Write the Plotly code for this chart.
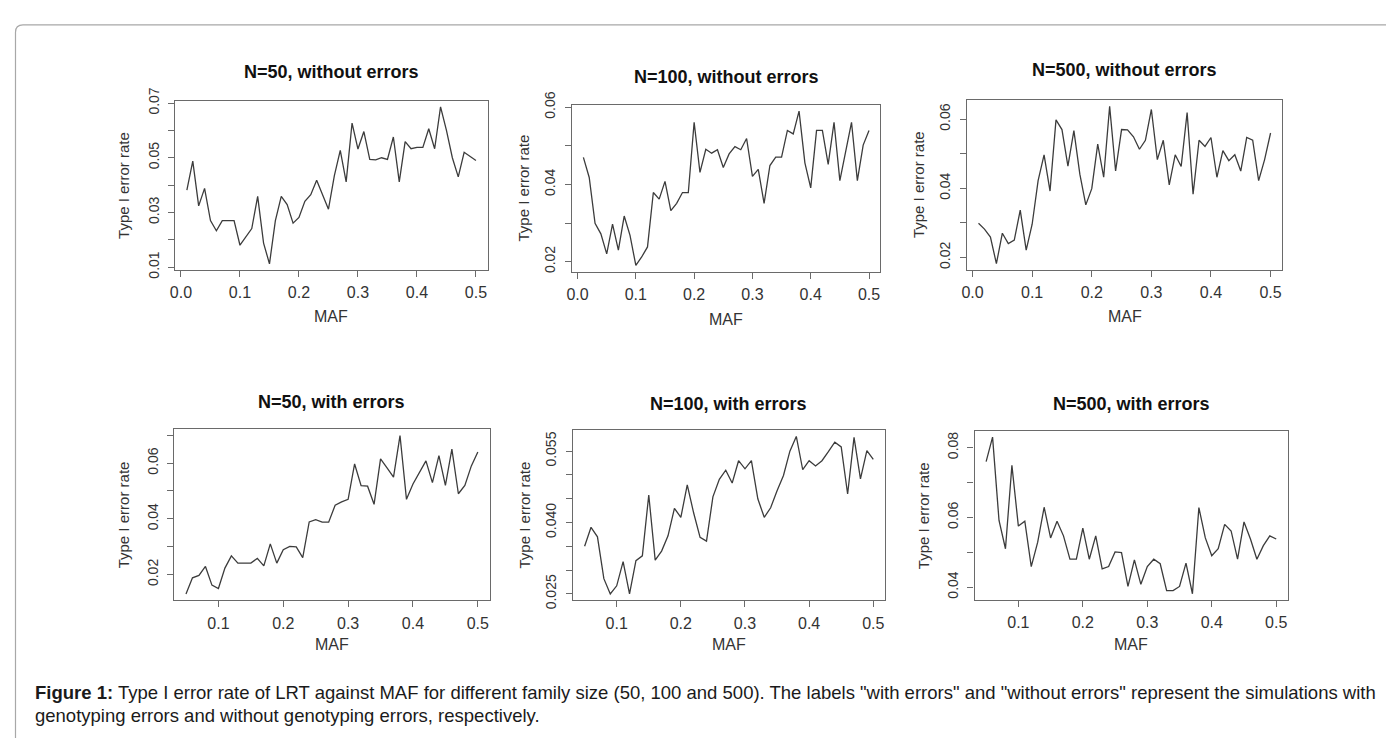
import plotly.graph_objects as go

# ---------------- data ----------------
maf_full = [0.01, 0.02, 0.03, 0.04, 0.05, 0.06, 0.07, 0.08, 0.09, 0.10,
            0.11, 0.12, 0.13, 0.14, 0.15, 0.16, 0.17, 0.18, 0.19, 0.20,
            0.21, 0.22, 0.23, 0.24, 0.25, 0.26, 0.27, 0.28, 0.29, 0.30,
            0.31, 0.32, 0.33, 0.34, 0.35, 0.36, 0.37, 0.38, 0.39, 0.40,
            0.41, 0.42, 0.43, 0.44, 0.45, 0.46, 0.47, 0.48, 0.49, 0.50]
maf_err = [0.05, 0.06, 0.07, 0.08, 0.09, 0.10,
           0.11, 0.12, 0.13, 0.14, 0.15, 0.16, 0.17, 0.18, 0.19, 0.20,
           0.21, 0.22, 0.23, 0.24, 0.25, 0.26, 0.27, 0.28, 0.29, 0.30,
           0.31, 0.32, 0.33, 0.34, 0.35, 0.36, 0.37, 0.38, 0.39, 0.40,
           0.41, 0.42, 0.43, 0.44, 0.45, 0.46, 0.47, 0.48, 0.49, 0.50]

n50_without = [0.0382, 0.0488, 0.0324, 0.0388, 0.0270, 0.0233, 0.0270, 0.0270, 0.0270, 0.0180,
               0.0212, 0.0241, 0.0359, 0.0188, 0.0112, 0.0270, 0.0359, 0.0329, 0.0261, 0.0282,
               0.0341, 0.0365, 0.0418, 0.0365, 0.0312, 0.0435, 0.0527, 0.0412, 0.0627, 0.0532,
               0.0596, 0.0494, 0.0492, 0.0500, 0.0494, 0.0576, 0.0412, 0.0559, 0.0533, 0.0538,
               0.0538, 0.0606, 0.0533, 0.0686, 0.0600, 0.0500, 0.0430, 0.0520, 0.0505, 0.0490]
n100_without = [0.0470, 0.0418, 0.0299, 0.0272, 0.0220, 0.0297, 0.0230, 0.0318, 0.0268, 0.0190,
                0.0212, 0.0238, 0.0379, 0.0362, 0.0408, 0.0332, 0.0351, 0.0379, 0.0379, 0.0561,
                0.0431, 0.0491, 0.0481, 0.0490, 0.0444, 0.0479, 0.0498, 0.0490, 0.0519, 0.0421,
                0.0439, 0.0351, 0.0449, 0.0471, 0.0471, 0.0540, 0.0531, 0.0590, 0.0456, 0.0391,
                0.0540, 0.0540, 0.0452, 0.0561, 0.0410, 0.0490, 0.0561, 0.0410, 0.0502, 0.0540]
n500_without = [0.0299, 0.0282, 0.0259, 0.0182, 0.0270, 0.0240, 0.0250, 0.0337, 0.0221, 0.0296,
                0.0422, 0.0497, 0.0392, 0.0598, 0.0570, 0.0464, 0.0567, 0.0441, 0.0352, 0.0399,
                0.0528, 0.0432, 0.0637, 0.0450, 0.0570, 0.0569, 0.0549, 0.0513, 0.0539, 0.0628,
                0.0483, 0.0539, 0.0410, 0.0497, 0.0463, 0.0619, 0.0383, 0.0539, 0.0521, 0.0547,
                0.0432, 0.0509, 0.0480, 0.0497, 0.0450, 0.0547, 0.0539, 0.0422, 0.0483, 0.0560]
n50_with = [0.0130, 0.0188, 0.0197, 0.0229, 0.0162, 0.0150, 0.0223, 0.0267, 0.0241, 0.0241,
            0.0241, 0.0258, 0.0231, 0.0310, 0.0241, 0.0289, 0.0301, 0.0299, 0.0261, 0.0389,
            0.0397, 0.0388, 0.0388, 0.0449, 0.0461, 0.0470, 0.0597, 0.0519, 0.0517, 0.0452,
            0.0615, 0.0583, 0.0550, 0.0699, 0.0470, 0.0525, 0.0565, 0.0608, 0.0530, 0.0627,
            0.0520, 0.0650, 0.0490, 0.0520, 0.0590, 0.0640]
n100_with = [0.0350, 0.0390, 0.0370, 0.0282, 0.0250, 0.0267, 0.0318, 0.0250, 0.0320, 0.0330,
             0.0458, 0.0321, 0.0340, 0.0372, 0.0430, 0.0411, 0.0479, 0.0420, 0.0369, 0.0361,
             0.0454, 0.0491, 0.0510, 0.0483, 0.0530, 0.0513, 0.0530, 0.0450, 0.0411, 0.0431,
             0.0467, 0.0499, 0.0550, 0.0581, 0.0511, 0.0530, 0.0519, 0.0530, 0.0549, 0.0569,
             0.0559, 0.0460, 0.0579, 0.0492, 0.0551, 0.0533]
n500_with = [0.0760, 0.0830, 0.0591, 0.0510, 0.0749, 0.0575, 0.0589, 0.0459, 0.0529, 0.0629,
             0.0541, 0.0589, 0.0547, 0.0480, 0.0480, 0.0569, 0.0480, 0.0547, 0.0452, 0.0459,
             0.0501, 0.0499, 0.0402, 0.0478, 0.0408, 0.0459, 0.0480, 0.0467, 0.0390, 0.0390,
             0.0402, 0.0469, 0.0381, 0.0628, 0.0541, 0.0490, 0.0510, 0.0580, 0.0561, 0.0480,
             0.0587, 0.0538, 0.0480, 0.0519, 0.0547, 0.0538]

titles = ["N=50, without errors", "N=100, without errors", "N=500, without errors",
          "N=50, with errors", "N=100, with errors", "N=500, with errors"]
x_ticks_top = [0.0, 0.1, 0.2, 0.3, 0.4, 0.5]
x_ticks_bottom = [0.1, 0.2, 0.3, 0.4, 0.5]
y_ticks = [
    [0.01, 0.02, 0.03, 0.04, 0.05, 0.06, 0.07],
    [0.02, 0.03, 0.04, 0.05, 0.06],
    [0.02, 0.03, 0.04, 0.05, 0.06],
    [0.02, 0.03, 0.04, 0.05, 0.06, 0.07],
    [0.025, 0.030, 0.035, 0.040, 0.045, 0.050, 0.055],
    [0.04, 0.05, 0.06, 0.07, 0.08],
]
y_labels = [
    ["0.01", "", "0.03", "", "0.05", "", "0.07"],
    ["0.02", "", "0.04", "", "0.06"],
    ["0.02", "", "0.04", "", "0.06"],
    ["0.02", "", "0.04", "", "0.06", ""],
    ["0.025", "", "", "0.040", "", "", "0.055"],
    ["0.04", "", "0.06", "", "0.08"],
]
y_title = "Type I error rate"
x_title = "MAF"
caption_1 = ('<b>Figure 1:</b> Type I error rate of LRT against MAF for different family size '
             '(50, 100 and 500). The labels "with errors" and "without errors" represent the '
             'simulations with')
caption_2 = 'genotyping errors and without genotyping errors, respectively.'

# ---------------- layout helpers ----------------
W, H = 1394, 738
OFF = 8  # default page body margin; all screen positions below are shifted by it
# screen-pixel calibration of two tick positions per panel: (v1, p1, v2, p2)
x_cal = [(0.0, 175.7, 0.4, 412.7), (0.0, 574.0, 0.5, 866.7), (0.0, 970.7, 0.5, 1270.0),
         (0.1, 213.3, 0.4, 408.7), (0.1, 613.3, 0.5, 871.0), (0.1, 1016.7, 0.5, 1275.7)]
y_cal = [(0.07, 91.7, 0.01, 261.0), (0.06, 96.0, 0.02, 255.3), (0.06, 108.3, 0.02, 251.0),
         (0.06, 463.3, 0.02, 578.3), (0.055, 451.0, 0.025, 598.3), (0.08, 447.3, 0.04, 591.3)]
title_y_px = [60, 65, 58, 400, 402, 402]
maf_y_px = [312, 315, 312, 651, 651, 651]
ytitle_off = [52, 49, 49, 51, 49, 51]

series = [(maf_full, n50_without), (maf_full, n100_without), (maf_full, n500_without),
          (maf_err, n50_with), (maf_err, n100_with), (maf_err, n500_with)]


def pad_range(vals):
    lo, hi = min(vals), max(vals)
    d = (hi - lo) * 0.04
    return [lo - d, hi + d]


def to_px(v, cal):
    v1, p1, v2, p2 = cal
    return p1 + (v - v1) * (p2 - p1) / (v2 - v1)


def fx(xp):
    return (xp - OFF) / W


def fy(yp):
    return 1 - (yp - OFF) / H


FONT = "Liberation Sans, Arial, Helvetica, sans-serif"
LINE_C = "#6a6a6a"
TEXT_C = "#333333"

fig = go.Figure()
annotations = []
layout_axes = {}

for i, (xs, ys) in enumerate(series):
    n = i + 1
    sfx = "" if n == 1 else str(n)
    xr = pad_range(xs)
    yr = pad_range(ys)
    x0p, x1p = to_px(xr[0], x_cal[i]), to_px(xr[1], x_cal[i])
    yb, yt = to_px(yr[0], y_cal[i]), to_px(yr[1], y_cal[i])
    xt = x_ticks_top if i < 3 else x_ticks_bottom
    layout_axes["xaxis" + sfx] = dict(
        domain=[fx(x0p), fx(x1p)], range=xr, anchor="y" + sfx,
        showline=True, mirror=True, linecolor=LINE_C, linewidth=1.2,
        ticks="outside", ticklen=6, tickcolor=LINE_C, tickwidth=1.2,
        tickvals=xt, ticktext=[f"{t:.1f}" for t in xt],
        tickfont=dict(family=FONT, size=16, color=TEXT_C),
        ticklabelstandoff=2,
        showgrid=False, zeroline=False, fixedrange=True,
    )
    layout_axes["yaxis" + sfx] = dict(
        domain=[fy(yb), fy(yt)], range=yr, anchor="x" + sfx,
        showline=True, mirror=True, linecolor=LINE_C, linewidth=1.2,
        ticks="outside", ticklen=6, tickcolor=LINE_C, tickwidth=1.2,
        tickvals=y_ticks[i], ticktext=y_labels[i], tickangle=-90,
        tickfont=dict(family=FONT, size=14, color=TEXT_C),
        ticklabelstandoff=4,
        showgrid=False, zeroline=False, fixedrange=True,
    )
    fig.add_trace(go.Scatter(
        x=xs, y=ys, mode="lines",
        line=dict(color="#3c3c3c", width=1.3),
        xaxis="x" + sfx, yaxis="y" + sfx,
        showlegend=False, hoverinfo="x+y",
    ))
    cx = (x0p + x1p) / 2
    cy = (yb + yt) / 2
    annotations.append(dict(
        text=f"<b>{titles[i]}</b>", x=fx(cx), y=fy(title_y_px[i]),
        xref="paper", yref="paper", xanchor="center", yanchor="middle",
        showarrow=False, font=dict(family=FONT, size=18, color="#111111"),
    ))
    annotations.append(dict(
        text=x_title, x=fx(cx), y=fy(maf_y_px[i]),
        xref="paper", yref="paper", xanchor="center", yanchor="middle",
        showarrow=False, font=dict(family=FONT, size=16, color=TEXT_C),
    ))
    annotations.append(dict(
        text=y_title, x=fx(x0p - ytitle_off[i]), y=fy(cy),
        xref="paper", yref="paper", xanchor="center", yanchor="middle",
        textangle=-90, showarrow=False, font=dict(family=FONT, size=15, color=TEXT_C),
    ))

annotations.append(dict(
    text=caption_1, x=fx(27), y=fy(700), xref="paper", yref="paper",
    xanchor="left", yanchor="middle", showarrow=False,
    font=dict(family=FONT, size=18.5, color="#1a1a1a"),
))
annotations.append(dict(
    text=caption_2, x=fx(27), y=fy(724), xref="paper", yref="paper",
    xanchor="left", yanchor="middle", showarrow=False,
    font=dict(family=FONT, size=18.5, color="#1a1a1a"),
))


def pt(xp, yp):
    return f"{fx(xp):.5f},{fy(yp):.5f}"


border_path = (f"M {pt(9.5, 770)} L {pt(9.5, 18.5)} "
               f"Q {pt(9.5, 11)} {pt(17, 11)} L {pt(1430, 11)}")

fig.update_layout(
    width=W, height=H,
    margin=dict(l=0, r=0, t=0, b=0),
    paper_bgcolor="white", plot_bgcolor="white",
    annotations=annotations,
    shapes=[dict(type="path", path=border_path, xref="paper", yref="paper",
                 line=dict(color="#a8a8a8", width=1.2))],
    **layout_axes,
)

fig.write_html("out.html")
